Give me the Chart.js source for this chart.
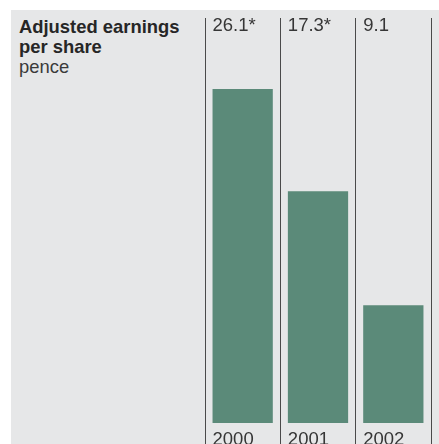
<!DOCTYPE html>
<html>
<head>
<meta charset="utf-8">
<script src="https://cdn.jsdelivr.net/npm/chart.js"></script>
<style>
  html, body { margin: 0; padding: 0; background: #fff; }
  #wrap { position: relative; width: 439px; height: 444px; overflow: hidden; }
  #bg { position: absolute; left: 11px; top: 10px; right: 0; bottom: 0; background: #e6e7e8; }
  #eps { position: absolute; left: 0; top: 0; }
  #title { position: absolute; left: 19px; top: 17px; font-family: "Liberation Sans", Arial, sans-serif;
           font-size: 18.4px; line-height: 20px; color: #3a3a3a; }
  #title b { font-weight: bold; color: #262626; }
</style>
</head>
<body>
<div id="wrap">
  <div id="bg"></div>
  <div id="title"><b>Adjusted earnings<br>per share</b><br>pence</div>
  <canvas id="eps" width="439" height="444"></canvas>
</div>
<script>
// chart data
const years = ['2000', '2001', '2002'];
const valueLabels = ['26.1*', '17.3*', '9.1'];
const earnings = [26.1, 18.1, 9.2];

const textColor = '#363636';
const labelFont = '18.5px "Liberation Sans", Arial, sans-serif';

// value labels on top, years at the bottom, both aligned to bar's left edge
const columnLabels = {
  id: 'columnLabels',
  afterDraw(chart) {
    const ctx = chart.ctx;
    const meta = chart.getDatasetMeta(0);
    ctx.save();
    ctx.font = labelFont;
    ctx.fillStyle = textColor;
    ctx.textAlign = 'left';
    ctx.textBaseline = 'alphabetic';
    meta.data.forEach((bar, i) => {
      const left = bar.x - bar.width / 2;
      ctx.fillText(valueLabels[i], left, 31);
      ctx.fillText(years[i], left, 445);
    });
    ctx.restore();
  }
};

new Chart('eps', {
  type: 'bar',
  data: {
    labels: years,
    datasets: [{
      data: earnings,
      backgroundColor: '#5b8a79',
      borderWidth: 0,
      barPercentage: 0.8,
      categoryPercentage: 1
    }]
  },
  options: {
    responsive: false,
    animation: false,
    layout: { padding: { left: 205, right: 8, top: 18, bottom: 0 } },
    plugins: { legend: { display: false }, tooltip: { enabled: false } },
    scales: {
      x: {
        grid: { offset: true, color: '#4a4a4a', lineWidth: 1, drawTicks: false },
        ticks: { display: false },
        border: { display: false },
        afterFit(scale) { scale.height = 0; }
      },
      y: {
        display: false,
        min: -1.64,
        max: 31.64
      }
    }
  },
  plugins: [columnLabels]
});
</script>
</body>
</html>
